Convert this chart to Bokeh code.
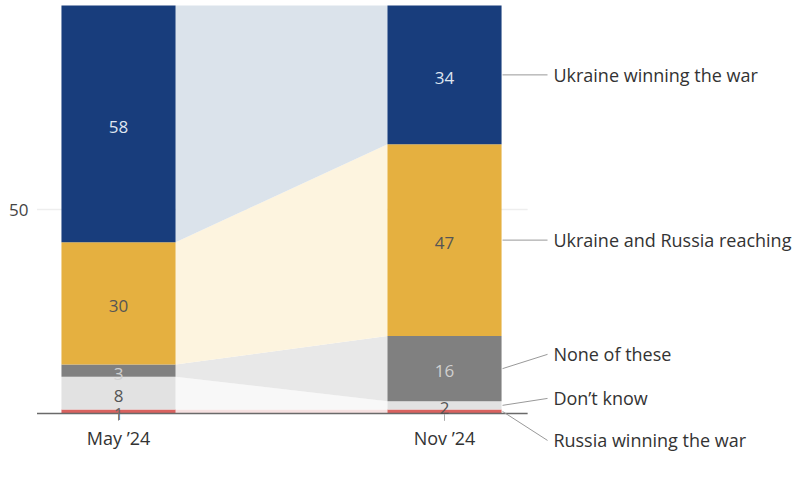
from bokeh.plotting import figure
from bokeh.models import Range1d, ColumnDataSource
from bokeh.core.properties import value
from bokeh.embed import file_html
from bokeh.resources import INLINE

# ---- data ----
periods = ["May \u201924", "Nov \u201924"]
series = ["Russia winning the war", "Don\u2019t know", "None of these",
          "Ukraine and Russia reaching", "Ukraine winning the war"]
may = [1, 8, 3, 30, 58]
nov = [1, 2, 16, 47, 34]
may_labels = ["1", "8", "3", "30", "58"]
nov_labels = ["", "2", "16", "47", "34"]
y_ticks = [50]

# ---- style ----
colors = ["#d9625f", "#e2e2e2", "#808080", "#e5b040", "#183d7c"]
band_colors = ["#f6e1e1", "#f8f8f8", "#e8e8e8", "#fdf4df", "#dbe3eb"]
value_colors = ["#666666", "#555555", "#d0d0d0", "#555555", "#dfe6f0"]
FONT = "Open Sans"
BAR_W = 0.35
AX_L, AX_R = -0.25, 1.255
# y positions (data units) of the right-hand series labels
right_label_y = [-6.6, 3.7, 14.5, 42.5, 83]

p = figure(width=800, height=480, output_backend="svg", toolbar_location=None,
           x_range=Range1d(-0.362, 2.092), y_range=Range1d(-16.42, 101.23),
           min_border=0)
p.axis.visible = False
p.grid.visible = False
p.outline_line_color = None
p.background_fill_color = "white"

# gridline
p.segment(x0=[AX_L] * len(y_ticks), x1=[AX_R] * len(y_ticks), y0=y_ticks, y1=y_ticks,
          line_color="#eeeeee", line_width=1.5)
p.text(x=[AX_L - 0.026] * len(y_ticks), y=y_ticks, text=[str(t) for t in y_ticks],
       text_align="right", text_baseline="middle", text_font=value(FONT),
       text_font_size="17px", text_color="#444444")

def stack(vals):
    b, out = 0, []
    for v in vals:
        out.append((b, b + v))
        b += v
    return out

ms, ns = stack(may), stack(nov)
x0, x1 = 0 + BAR_W / 2, 1 - BAR_W / 2

# bands
p.patches(xs=[[x0, x1, x1, x0] for _ in series],
          ys=[[m[0], n[0], n[1], m[1]] for m, n in zip(ms, ns)],
          fill_color=band_colors, line_color=None)

# bars
for i, (vals, st) in enumerate([(may, ms), (nov, ns)]):
    src = ColumnDataSource(dict(x=[i] * len(vals), bottom=[s[0] for s in st],
                                top=[s[1] for s in st], color=colors))
    p.vbar(x="x", width=BAR_W, bottom="bottom", top="top", fill_color="color",
           line_color=None, source=src)

# baseline + ticks
p.segment(x0=[AX_L], x1=[AX_R], y0=[0], y1=[0], line_color="#6a6a6a", line_width=1.6)
p.segment(x0=[0, 1], x1=[0, 1], y0=[0, 0], y1=[-1.8, -1.8], line_color="#aaaaaa", line_width=1)
p.text(x=[0, 1], y=[-6.1, -6.1], text=periods, text_align="center", text_baseline="middle",
       text_font=value(FONT), text_font_size="18px", text_color="#333333")

# value labels
for i, (st, labs) in enumerate([(ms, may_labels), (ns, nov_labels)]):
    p.text(x=[i] * len(st), y=[(a + b) / 2 - 0.7 for a, b in st], text=labs,
           text_align="center", text_baseline="middle", text_font=value(FONT),
           text_font_size="17px", text_color=value_colors)

# right-hand labels with leader lines
lx0 = 1 + BAR_W / 2 + 0.003
lx1 = 1.316
p.segment(x0=[lx0] * len(series), x1=[lx1] * len(series),
          y0=[(a + b) / 2 for a, b in ns], y1=right_label_y,
          line_color="#999999", line_width=1)
p.text(x=[lx1 + 0.018] * len(series), y=right_label_y, text=series,
       text_align="left", text_baseline="middle", text_font=value(FONT),
       text_font_size="18px", text_color="#333333")

open("out.html", "w").write(file_html(p, INLINE))
